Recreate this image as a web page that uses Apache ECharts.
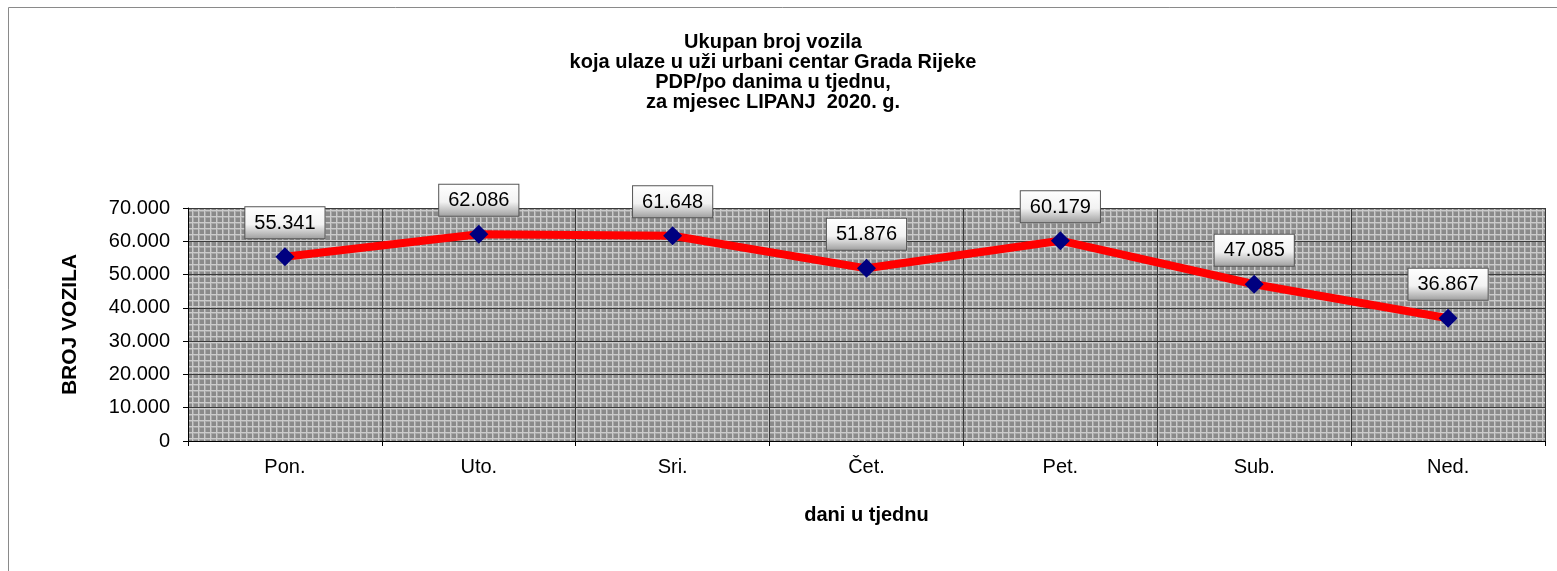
<!DOCTYPE html>
<html>
<head>
<meta charset="utf-8">
<script src="https://cdn.jsdelivr.net/npm/echarts@6/dist/echarts.min.js"></script>
<style>
    html, body { margin: 0; padding: 0; background: #fff; }
    #chart { width: 1557px; height: 571px; }
</style>
</head>
<body>
<div id="chart"></div>
<script>
// podaci
const days = ['Pon.', 'Uto.', 'Sri.', 'Čet.', 'Pet.', 'Sub.', 'Ned.']
const vehicles = [55341, 62086, 61648, 51876, 60179, 47085, 36867]
const yTicks = [0, 10000, 20000, 30000, 40000, 50000, 60000, 70000]

// broj s točkom kao separatorom tisućica
const fmt = (v) => String(v).replace(/\B(?=(\d{3})+(?!\d))/g, '.')

// uzorak pozadine (sivi raster)
const makePattern = () => {
    const c = document.createElement('canvas')
    c.width = 6
    c.height = 6
    const ctx = c.getContext('2d')
    ctx.fillStyle = '#8a8a8a'
    ctx.fillRect(0, 0, 6, 6)
    ctx.fillStyle = '#a8a8a8'
    ctx.fillRect(0, 0, 6, 2)
    ctx.fillRect(0, 0, 2, 6)
    ctx.fillStyle = '#cbcbcb'
    ctx.fillRect(0, 0, 6, 1)
    ctx.fillRect(0, 0, 1, 6)
    return c
}

const chart = echarts.init(document.getElementById('chart'))
const font = 'Liberation Sans, Arial, sans-serif'

const option = {
    backgroundColor: '#fff',
    animation: false,
    title: {
        text: 'Ukupan broj vozila\nkoja ulaze u uži urbani centar Grada Rijeke\nPDP/po danima u tjednu,\nza mjesec LIPANJ  2020. g.',
        left: 768,
        top: 27,
        textAlign: 'center',
        textStyle: {
            fontFamily: font,
            fontSize: 20,
            fontWeight: 'bold',
            color: '#000',
            lineHeight: 20
        }
    },
    graphic: [
        {
            type: 'polyline',
            shape: { points: [[8.5, 571], [8.5, 7.5], [1557, 7.5]] },
            style: { stroke: '#8a8a8a', lineWidth: 1, fill: null },
            silent: true
        }
    ],
    grid: {
        left: 188,
        right: 12,
        top: 208,
        bottom: 130,
        show: true,
        borderWidth: 0,
        backgroundColor: { image: makePattern(), repeat: 'repeat' }
    },
    xAxis: {
        type: 'category',
        data: days,
        boundaryGap: true,
        name: 'dani u tjednu',
        nameLocation: 'middle',
        nameGap: 64,
        nameTextStyle: { fontFamily: font, fontSize: 20, fontWeight: 'bold', color: '#000' },
        axisLine: { show: true, lineStyle: { color: '#000', width: 1 } },
        axisTick: { show: true, length: 5, lineStyle: { color: '#000' } },
        axisLabel: { fontFamily: font, fontSize: 20, color: '#000', margin: 16 },
        splitLine: { show: true, lineStyle: { color: '#3a3a3a', width: 1 } }
    },
    yAxis: {
        type: 'value',
        min: 0,
        max: 70000,
        interval: 10000,
        name: 'BROJ VOZILA',
        nameLocation: 'middle',
        nameGap: 107,
        nameTextStyle: { fontFamily: font, fontSize: 21, fontWeight: 'bold', color: '#000' },
        axisLine: { show: true, lineStyle: { color: '#000', width: 1 } },
        axisTick: { show: true, length: 5, lineStyle: { color: '#000' } },
        axisLabel: {
            fontFamily: font,
            fontSize: 20,
            color: '#000',
            margin: 18,
            formatter: (v) => yTicks.includes(v) ? fmt(v) : ''
        },
        splitLine: { show: true, lineStyle: { color: '#3a3a3a', width: 1 } }
    },
    series: [
        {
            type: 'line',
            data: vehicles,
            symbol: 'diamond',
            symbolSize: 19,
            itemStyle: { color: '#000080' },
            lineStyle: { color: '#ff0000', width: 8 },
            z: 3,
            label: {
                show: true,
                position: 'top',
                distance: 9,
                formatter: (p) => fmt(p.value),
                fontFamily: font,
                fontSize: 20,
                color: '#000',
                padding: [6, 9, 5, 9],
                borderColor: '#555',
                borderWidth: 1,
                backgroundColor: {
                    type: 'linear', x: 0, y: 0, x2: 0, y2: 1,
                    colorStops: [
                        { offset: 0, color: '#ffffff' },
                        { offset: 0.55, color: '#f2f2f2' },
                        { offset: 1, color: '#9c9c9c' }
                    ]
                }
            }
        }
    ]
}

chart.setOption(option)
</script>
</body>
</html>
